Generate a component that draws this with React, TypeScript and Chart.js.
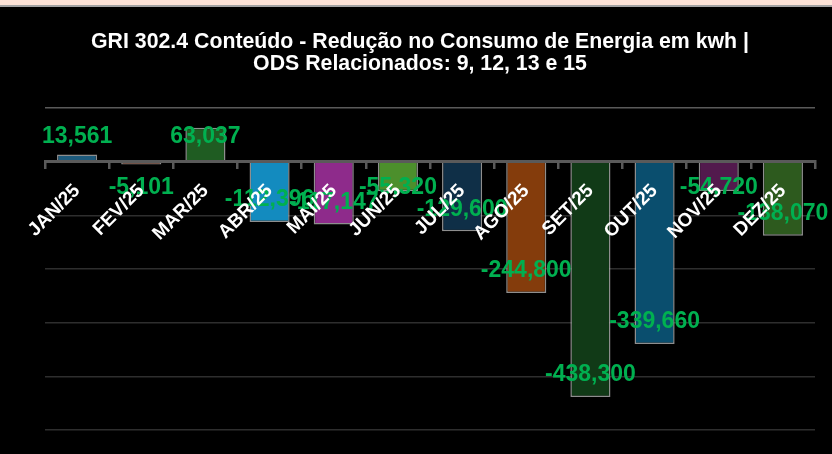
import React, { useEffect, useRef } from "react";
import { Chart, registerables } from "chart.js";

Chart.register(...registerables);

const titleLines = [
  "GRI 302.4 Conteúdo - Redução no Consumo de Energia em kwh |",
  "ODS Relacionados: 9, 12, 13 e 15",
];
const months = ["JAN/25", "FEV/25", "MAR/25", "ABR/25", "MAI/25", "JUN/25", "JUL/25", "AGO/25", "SET/25", "OUT/25", "NOV/25", "DEZ/25"];
const reduction = [13561, -5101, 63037, -112396, -117147, -55320, -129600, -244800, -438300, -339660, -54720, -138070];
const barColors = ["#1d5a7c", "#a0634c", "#1f5c22", "#138bbf", "#8e2b8b", "#4c8f2c", "#0f2f47", "#843c0c", "#113a17", "#0a4e6e", "#521a4d", "#2d5a1e"];
const yMin = -500000;
const yMax = 100000;
const yStep = 100000;

const FONT = "'Liberation Sans', Arial, sans-serif";

const fmt = (v: number) => {
  const s = Math.abs(v).toString().replace(/\B(?=(\d{3})+(?!\d))/g, ",");
  return (v < 0 ? "-" : "") + s;
};

const titlePlugin = {
  id: "customTitle",
  afterDraw(chart: any) {
    const { ctx } = chart;
    ctx.save();
    ctx.font = `bold 21.3px ${FONT}`;
    ctx.fillStyle = "#ffffff";
    ctx.textAlign = "center";
    ctx.textBaseline = "middle";
    titleLines.forEach((line, i) => {
      ctx.fillText(line, 420, 42 + i * 22);
    });
    ctx.restore();
  },
};

const labelPlugin = {
  id: "barValueLabels",
  afterDatasetsDraw(chart: any) {
    const { ctx } = chart;
    const yScale = chart.scales.y;
    const zeroY = yScale.getPixelForValue(0);
    const meta = chart.getDatasetMeta(0);
    ctx.save();
    ctx.font = `bold 23px ${FONT}`;
    ctx.fillStyle = "#00b050";
    ctx.textAlign = "center";
    ctx.textBaseline = "middle";
    meta.data.forEach((bar: any, i: number) => {
      const v = reduction[i];
      let y: number;
      if (v >= 0) {
        y = Math.min(zeroY - 25, bar.y + 24);
      } else {
        y = Math.max(zeroY + 26, bar.y - 22);
      }
      ctx.fillText(fmt(v), bar.x, y);
    });
    ctx.restore();
  },
};

export default function App() {
  const canvasRef = useRef<HTMLCanvasElement | null>(null);

  useEffect(() => {
    if (!canvasRef.current) return;
    const chart = new Chart(canvasRef.current, {
      type: "bar",
      data: {
        labels: months,
        datasets: [
          {
            data: reduction,
            backgroundColor: barColors,
            borderColor: "rgba(190,190,190,0.75)",
            borderWidth: 1.5,
            barPercentage: 0.625,
            categoryPercentage: 1,
          },
        ],
      },
      plugins: [labelPlugin, titlePlugin],
      options: {
        animation: false,
        responsive: false,
        maintainAspectRatio: false,
        layout: { padding: { left: 45, right: 17, top: 108, bottom: 24 } },
        plugins: {
          legend: { display: false },
          tooltip: { enabled: false },
          title: { display: false },
        },
        scales: {
          x: {
            position: { y: 0 } as any,
            offset: true,
            grid: {
              display: true,
              drawOnChartArea: false,
              drawTicks: true,
              tickLength: 6,
              color: "#5a5a5a",
              lineWidth: 2.5,
            },
            border: { display: true, color: "#5a5a5a", width: 3, z: 1 },
            ticks: {
              z: 2,
              autoSkip: false,
              maxRotation: 45,
              minRotation: 45,
              padding: 12,
              color: "#ffffff",
              font: { family: FONT, size: 19, weight: "bold" },
            },
          },
          y: {
            min: yMin,
            max: yMax,
            ticks: { display: false, stepSize: yStep },
            border: { display: false },
            grid: {
              drawTicks: false,
              color: (c: any) => (c.tick && c.tick.value === yMax ? "#5a5a5a" : "#2e2e2e"),
              lineWidth: 1.5,
            },
          },
        },
      } as any,
    });
    return () => chart.destroy();
  }, []);

  return (
    <div style={{ position: "fixed", left: 0, top: 0, width: 832, height: 454, background: "#000", overflow: "hidden" }}>
      <canvas ref={canvasRef} width={832} height={454} style={{ position: "absolute", left: 0, top: 0 }} />
      <div style={{ position: "absolute", left: 0, top: 0, width: 832, height: 5, background: "#fde3d7" }} />
      <div style={{ position: "absolute", left: 0, top: 5, width: 832, height: 2, background: "#a3a3a3" }} />
    </div>
  );
}
